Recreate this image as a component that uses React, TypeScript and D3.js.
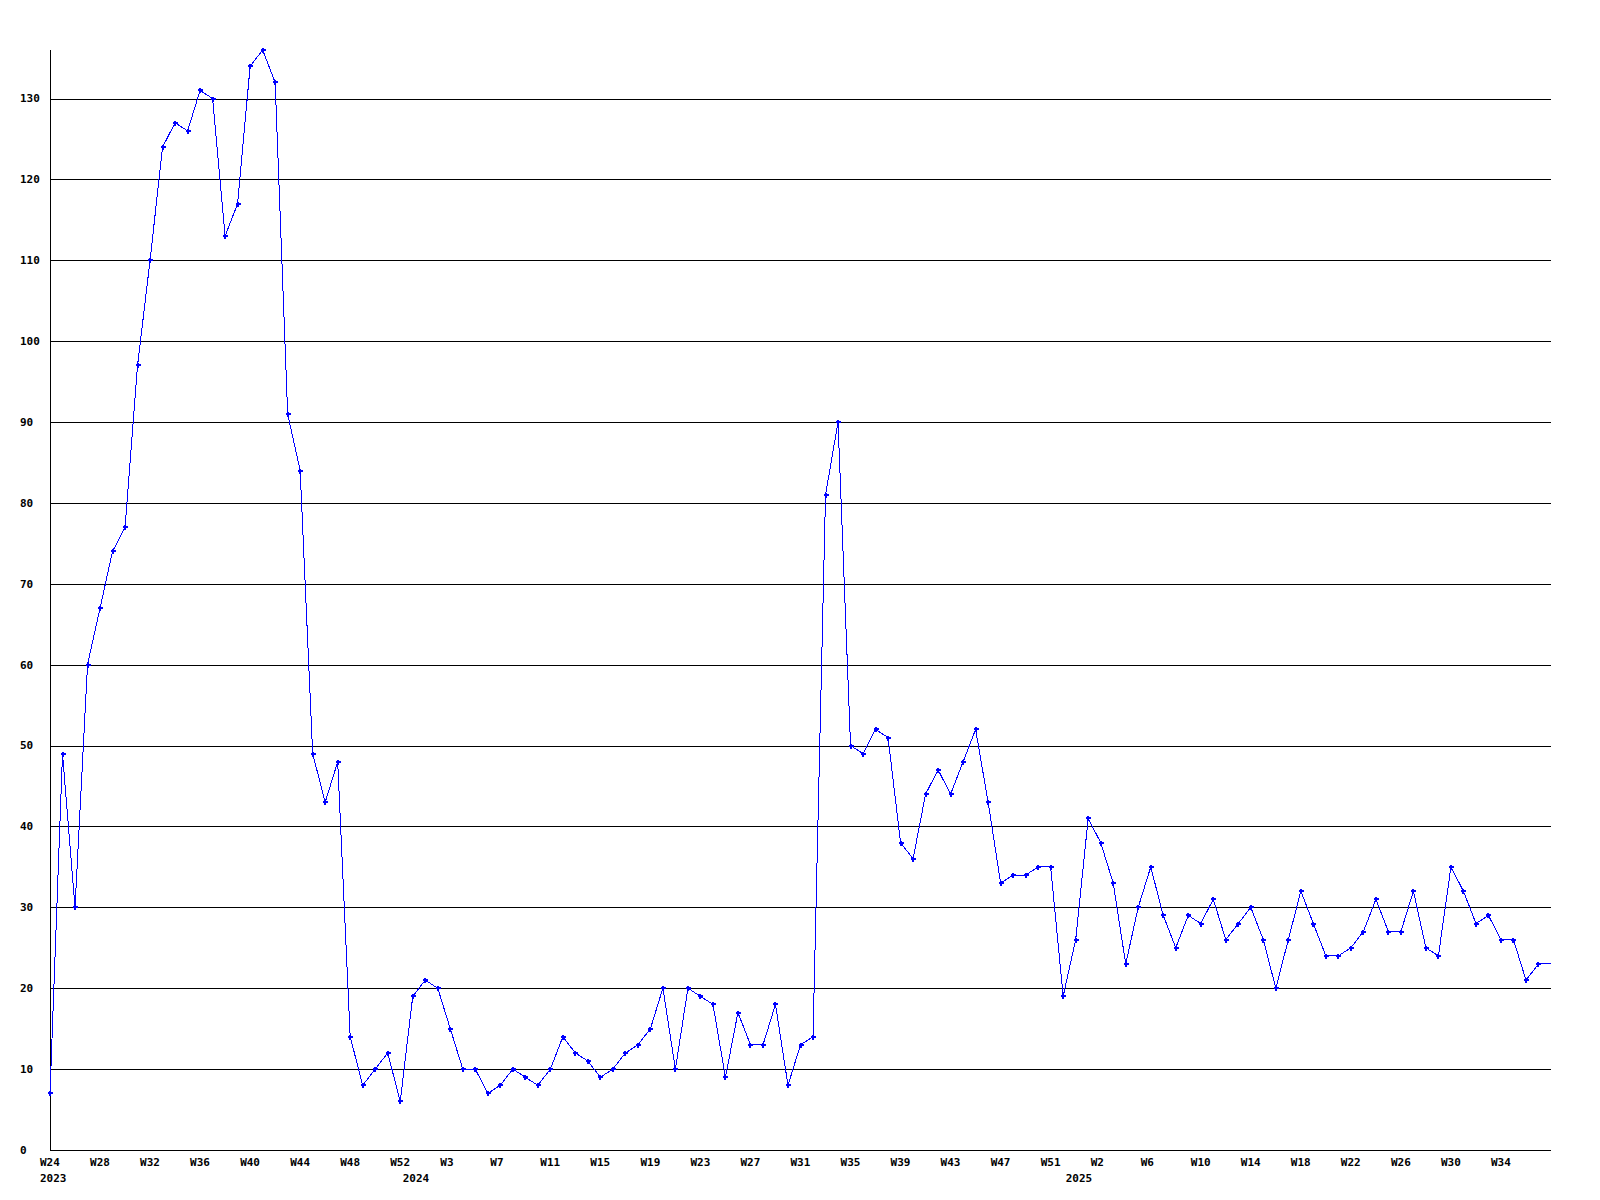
import React, { useEffect, useRef } from 'react';
import * as d3 from 'd3';

// Week numbers per year (as labelled on the x axis)
const weeks2023: number[] = [24, 25, 26, 27, 28, 29, 30, 31, 32, 33, 34, 35, 36, 37, 38, 39, 40, 41, 42, 43, 44, 45, 46, 47, 48, 49, 50, 51, 52];
const weeks2024: number[] = [0, 1, 2, 3, 4, 5, 6, 7, 8, 9, 10, 11, 12, 13, 14, 15, 16, 17, 18, 19, 20, 21, 22, 23, 24, 25, 26, 27, 28, 29, 30, 31, 32, 33, 34, 35, 36, 37, 38, 39, 40, 41, 42, 43, 44, 45, 46, 47, 48, 49, 50, 51, 52];
const weeks2025: number[] = [0, 1, 2, 3, 4, 5, 6, 7, 8, 9, 10, 11, 12, 13, 14, 15, 16, 17, 18, 19, 20, 21, 22, 23, 24, 25, 26, 27, 28, 29, 30, 31, 32, 33, 34, 35, 36, 37, 38];

const values2023: number[] = [7, 49, 30, 60, 67, 74, 77, 97, 110, 124, 127, 126, 131, 130, 113, 117, 134, 136, 132, 91, 84, 49, 43, 48, 14, 8, 10, 12, 6];
const values2024: number[] = [19, 21, 20, 15, 10, 10, 7, 8, 10, 9, 8, 10, 14, 12, 11, 9, 10, 12, 13, 15, 20, 10, 20, 19, 18, 9, 17, 13, 13, 18, 8, 13, 14, 81, 90, 50, 49, 52, 51, 38, 36, 44, 47, 44, 48, 52, 43, 33, 34, 34, 35, 35, 19];
const values2025: number[] = [26, 41, 38, 33, 23, 30, 35, 29, 25, 29, 28, 31, 26, 28, 30, 26, 20, 26, 32, 28, 24, 24, 25, 27, 31, 27, 27, 32, 25, 24, 35, 32, 28, 29, 26, 26, 21, 23, 23];

const years: string[] = ['2023', '2024', '2025'];

const xTickLabels: string[] = [
  '2023-W24', '2023-W28', '2023-W32', '2023-W36', '2023-W40', '2023-W44', '2023-W48', '2023-W52',
  '2024-W3', '2024-W7', '2024-W11', '2024-W15', '2024-W19', '2024-W23', '2024-W27', '2024-W31', '2024-W35', '2024-W39', '2024-W43', '2024-W47', '2024-W51',
  '2025-W2', '2025-W6', '2025-W10', '2025-W14', '2025-W18', '2025-W22', '2025-W26', '2025-W30', '2025-W34',
];

const yTicks: number[] = [0, 10, 20, 30, 40, 50, 60, 70, 80, 90, 100, 110, 120, 130];

interface Pt { key: string; year: string; week: number; value: number; }

const points: Pt[] = [
  ...weeks2023.map((w, i) => ({ key: `2023-W${w}`, year: '2023', week: w, value: values2023[i] })),
  ...weeks2024.map((w, i) => ({ key: `2024-W${w}`, year: '2024', week: w, value: values2024[i] })),
  ...weeks2025.map((w, i) => ({ key: `2025-W${w}`, year: '2025', week: w, value: values2025[i] })),
];

const W = 1600;
const H = 1200;
const LEFT = 50;
const RIGHT = 1551;
const TOP = 50;
const BOTTOM = 1150;
const FONT = '"DejaVu Sans Mono", monospace';

export default function App() {
  const ref = useRef<SVGSVGElement | null>(null);

  useEffect(() => {
    document.body.style.margin = '0';
    const svg = d3.select(ref.current);
    svg.selectAll('*').remove();

    const x = d3.scalePoint<string>().domain(points.map(p => p.key)).range([LEFT, RIGHT]);
    const y = d3.scaleLinear().domain([0, 136]).range([BOTTOM, TOP]);

    svg.append('rect').attr('width', W).attr('height', H).attr('fill', '#ffffff');

    // gridlines
    svg.append('g').selectAll('line').data(yTicks.filter(t => t > 0)).join('line')
      .attr('x1', LEFT).attr('x2', RIGHT)
      .attr('y1', d => Math.round(y(d)) + 0.5).attr('y2', d => Math.round(y(d)) + 0.5)
      .attr('stroke', '#000').attr('stroke-width', 1).attr('shape-rendering', 'crispEdges');

    // axes
    svg.append('line').attr('x1', LEFT + 0.5).attr('x2', LEFT + 0.5).attr('y1', TOP).attr('y2', BOTTOM + 0.5)
      .attr('stroke', '#000').attr('shape-rendering', 'crispEdges');
    svg.append('line').attr('x1', LEFT).attr('x2', RIGHT).attr('y1', BOTTOM + 0.5).attr('y2', BOTTOM + 0.5)
      .attr('stroke', '#000').attr('shape-rendering', 'crispEdges');

    // y labels
    svg.append('g').selectAll('text').data(yTicks).join('text')
      .attr('x', 20).attr('y', d => y(d)).attr('dy', '0.35em')
      .attr('font-family', FONT).attr('font-size', 11).attr('font-weight', 'bold').attr('fill', '#000')
      .text(d => String(d));

    // x labels
    svg.append('g').selectAll('text').data(xTickLabels).join('text')
      .attr('x', d => (x(d) as number) - 10).attr('y', 1162).attr('dy', '0.35em')
      .attr('font-family', FONT).attr('font-size', 11).attr('font-weight', 'bold').attr('fill', '#000')
      .text(d => d.split('-')[1]);

    // year labels
    svg.append('g').selectAll('text').data(years).join('text')
      .attr('x', d => (x(points.find(p => p.year === d)!.key) as number) - 10).attr('y', 1178).attr('dy', '0.35em')
      .attr('font-family', FONT).attr('font-size', 11).attr('font-weight', 'bold').attr('fill', '#000')
      .text(d => d);

    // line
    const line = d3.line<Pt>().x(d => x(d.key) as number).y(d => y(d.value));
    svg.append('path').datum(points).attr('d', line)
      .attr('fill', 'none').attr('stroke', '#0000ff').attr('stroke-width', 1)
      .attr('shape-rendering', 'crispEdges');

    // markers
    const cross = 'M-1,-2.5H1V-1H2.5V1H1V2.5H-1V1H-2.5V-1H-1Z';
    svg.append('g').selectAll('path').data(points.slice(0, points.length - 1)).join('path')
      .attr('d', cross)
      .attr('transform', d => `translate(${Math.round(x(d.key) as number)},${Math.round(y(d.value))})`)
      .attr('fill', '#0000ff').attr('shape-rendering', 'crispEdges');
  }, []);

  return (
    <svg ref={ref} width={W} height={H} style={{ position: 'absolute', left: 0, top: 0, display: 'block' }} />
  );
}
